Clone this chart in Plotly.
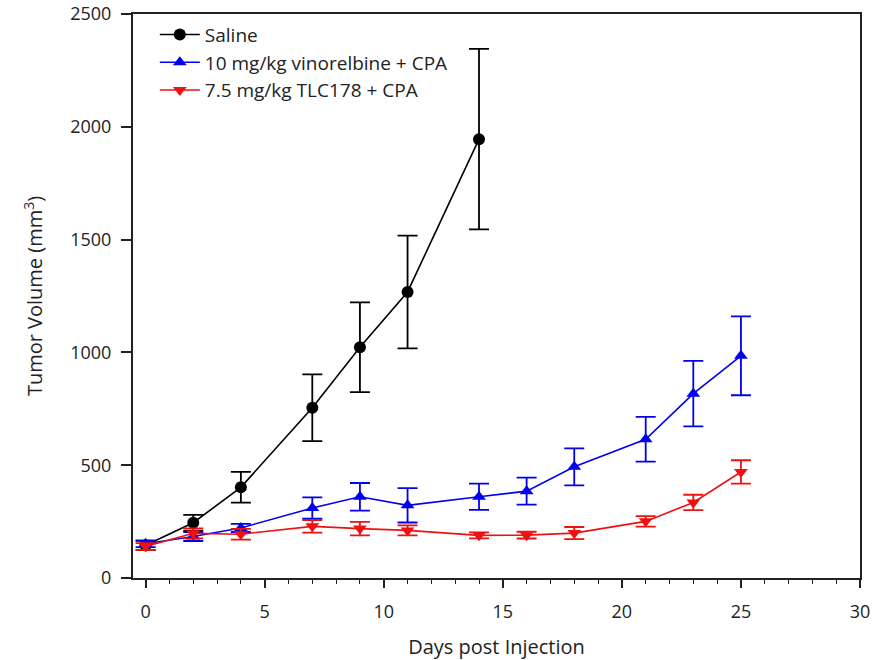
import plotly.graph_objects as go

days_saline = [0, 2, 4, 7, 9, 11, 14]
saline = [145, 245, 402, 755, 1023, 1268, 1945]
saline_err = [20, 35, 68, 148, 199, 250, 400]

days_treat = [0, 2, 4, 7, 9, 11, 14, 16, 18, 21, 23, 25]
vinorelbine = [152, 184, 222, 310, 360, 322, 360, 385, 493, 615, 817, 985]
vinorelbine_err = [15, 20, 18, 47, 61, 76, 58, 60, 82, 99, 145, 175]
tlc178 = [140, 198, 194, 229, 219, 211, 189, 190, 199, 251, 335, 470]
tlc178_err = [15, 22, 24, 28, 30, 22, 13, 15, 27, 23, 34, 52]

x_ticks = [0, 5, 10, 15, 20, 25, 30]
y_ticks = [0, 500, 1000, 1500, 2000, 2500]

FONT = "Open Sans"

fig = go.Figure()

def add(name, x, y, err, color, symbol):
    fig.add_trace(go.Scatter(
        x=x, y=y, name=name, mode="lines+markers",
        line=dict(color=color, width=1.6),
        marker=dict(color=color, symbol=symbol, size=12),
        error_y=dict(type="data", array=err, visible=True, color=color,
                     thickness=1.8, width=10),
    ))

add("Saline", days_saline, saline, saline_err, "black", "circle")
add("10 mg/kg vinorelbine + CPA", days_treat, vinorelbine, vinorelbine_err, "#0000EE", "triangle-up")
add("7.5 mg/kg TLC178 + CPA", days_treat, tlc178, tlc178_err, "#EE1111", "triangle-down")

fig.update_layout(
    width=873, height=660,
    margin=dict(l=133, r=13, t=14, b=82),
    paper_bgcolor="white", plot_bgcolor="white",
    font=dict(family=FONT, size=18, color="#222"),
    showlegend=True,
    legend=dict(x=0.03, y=0.997, xanchor="left", yanchor="top",
                bgcolor="rgba(0,0,0,0)", font=dict(size=19, family=FONT),
                tracegroupgap=0, itemwidth=40),
    xaxis=dict(
        range=[-0.53, 30], tickvals=x_ticks, ticks="outside", ticklen=8,
        tickwidth=1.5, tickcolor="#222", showline=True, linecolor="#222",
        linewidth=2, mirror=True, showgrid=False, zeroline=False,
        tickfont=dict(size=18), ticklabelstandoff=8, automargin=False,
        ticklabeloverflow="allow",
        minor=dict(dtick=1, tick0=0, ticks="outside", ticklen=4, tickcolor="#222", tickwidth=1.2),
        title=dict(text="Days post Injection", font=dict(size=20), standoff=20),
    ),
    yaxis=dict(
        range=[0, 2500], tickvals=y_ticks, ticks="outside", ticklen=10,
        tickwidth=1.5, tickcolor="#222", showline=True, linecolor="#222",
        linewidth=2, mirror=True, showgrid=False, zeroline=False,
        tickfont=dict(size=18), ticklabelstandoff=6, automargin=False,
        ticklabeloverflow="allow",
        title=dict(text="Tumor Volume (mm<sup>3</sup>)", font=dict(size=20), standoff=22),
    ),
)

fig.write_html(
    "out.html",
    config={"displayModeBar": False},
    post_script="document.body.style.margin='0';document.body.style.overflow='hidden';",
)
